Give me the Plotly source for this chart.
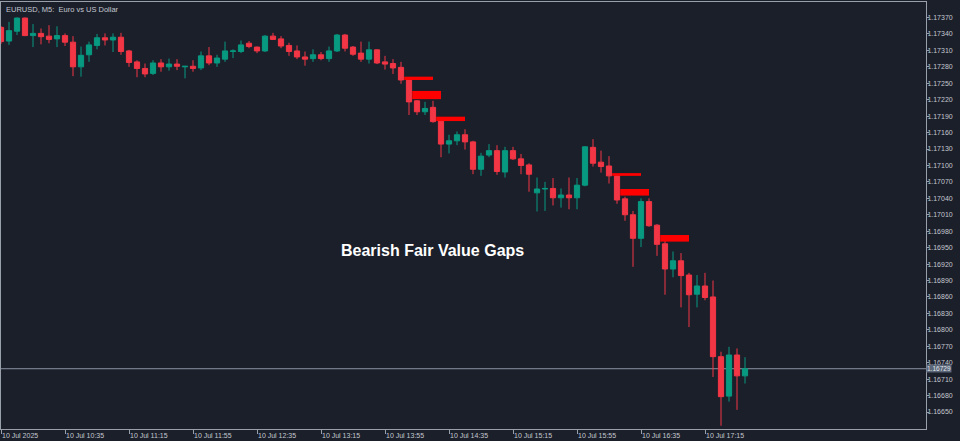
import plotly.graph_objects as go

# ---------------- data ----------------
x_tick_labels = ["10 Jul 2025", "10 Jul 10:35", "10 Jul 11:15", "10 Jul 11:55", "10 Jul 12:35",
                 "10 Jul 13:15", "10 Jul 13:55", "10 Jul 14:35", "10 Jul 15:15", "10 Jul 15:55",
                 "10 Jul 16:35", "10 Jul 17:15"]
x_tick_bars = [0, 8, 16, 24, 32, 40, 48, 56, 64, 72, 80, 88]

y_tick_values = [1.17370, 1.17340, 1.17310, 1.17280, 1.17250, 1.17220, 1.17190, 1.17160, 1.17130,
                 1.17100, 1.17070, 1.17040, 1.17010, 1.16980, 1.16950, 1.16920, 1.16890, 1.16860,
                 1.16830, 1.16800, 1.16770, 1.16740, 1.16710, 1.16680, 1.16650]

opens = [
    1.17352, 1.17327, 1.17345, 1.17369, 1.17337, 1.17341, 1.17336, 1.17331, 1.17337, 1.17325,
    1.17280, 1.17302, 1.17319, 1.17333, 1.17329, 1.17334, 1.17309, 1.17289, 1.17277, 1.17268,
    1.17287, 1.17280, 1.17285, 1.17280, 1.17281, 1.17278, 1.17300, 1.17287, 1.17294, 1.17308,
    1.17308, 1.17323, 1.17316, 1.17309, 1.17336, 1.17331, 1.17319, 1.17309, 1.17298, 1.17295,
    1.17302, 1.17295, 1.17309, 1.17338, 1.17316, 1.17305, 1.17294, 1.17311, 1.17289, 1.17286,
    1.17279, 1.17256, 1.17218, 1.17198, 1.17206, 1.17181, 1.17139, 1.17145, 1.17156, 1.17143,
    1.17093, 1.17119, 1.17127, 1.17088, 1.17127, 1.17112, 1.17101, 1.17050, 1.17057, 1.17058,
    1.17041, 1.17046, 1.17041, 1.17064, 1.17133, 1.17106, 1.17099, 1.17081, 1.17039, 1.17010,
    1.16967, 1.17034, 1.16991, 1.16957, 1.16911, 1.16926, 1.16900, 1.16865, 1.16880, 1.16860,
    1.16751, 1.16679, 1.16754, 1.16716]

highs = [
    1.17354, 1.17362, 1.17370, 1.17370, 1.17358, 1.17350, 1.17356, 1.17354, 1.17341, 1.17336,
    1.17317, 1.17326, 1.17340, 1.17341, 1.17341, 1.17342, 1.17311, 1.17292, 1.17286, 1.17292,
    1.17294, 1.17295, 1.17294, 1.17281, 1.17292, 1.17308, 1.17316, 1.17302, 1.17326, 1.17312,
    1.17328, 1.17327, 1.17317, 1.17338, 1.17342, 1.17336, 1.17324, 1.17319, 1.17308, 1.17312,
    1.17307, 1.17317, 1.17340, 1.17340, 1.17318, 1.17326, 1.17326, 1.17312, 1.17300, 1.17294,
    1.17289, 1.17261, 1.17219, 1.17216, 1.17218, 1.17183, 1.17156, 1.17162, 1.17166, 1.17145,
    1.17123, 1.17139, 1.17137, 1.17134, 1.17134, 1.17121, 1.17104, 1.17078, 1.17070, 1.17077,
    1.17058, 1.17078, 1.17077, 1.17135, 1.17148, 1.17127, 1.17117, 1.17083, 1.17043, 1.17017,
    1.17040, 1.17040, 1.16993, 1.16963, 1.16943, 1.16940, 1.16904, 1.16900, 1.16904, 1.16890,
    1.16760, 1.16769, 1.16766, 1.16750]

lows = [
    1.17322, 1.17320, 1.17338, 1.17336, 1.17316, 1.17321, 1.17323, 1.17316, 1.17318, 1.17263,
    1.17262, 1.17289, 1.17312, 1.17319, 1.17307, 1.17302, 1.17280, 1.17261, 1.17261, 1.17265,
    1.17271, 1.17273, 1.17274, 1.17259, 1.17271, 1.17274, 1.17283, 1.17280, 1.17289, 1.17296,
    1.17305, 1.17314, 1.17305, 1.17307, 1.17329, 1.17314, 1.17300, 1.17294, 1.17282, 1.17289,
    1.17292, 1.17289, 1.17307, 1.17308, 1.17300, 1.17289, 1.17286, 1.17285, 1.17275, 1.17267,
    1.17249, 1.17192, 1.17192, 1.17192, 1.17178, 1.17115, 1.17122, 1.17137, 1.17129, 1.17084,
    1.17081, 1.17115, 1.17083, 1.17078, 1.17110, 1.17084, 1.17052, 1.17016, 1.17017, 1.17027,
    1.17023, 1.17020, 1.17020, 1.17062, 1.17098, 1.17087, 1.17067, 1.17030, 1.16999, 1.16915,
    1.16951, 1.16988, 1.16935, 1.16864, 1.16896, 1.16841, 1.16805, 1.16841, 1.16854, 1.16714,
    1.16625, 1.16669, 1.16654, 1.16702]

closes = [
    1.17326, 1.17346, 1.17369, 1.17337, 1.17341, 1.17335, 1.17330, 1.17337, 1.17325, 1.17280,
    1.17301, 1.17320, 1.17333, 1.17329, 1.17334, 1.17308, 1.17288, 1.17277, 1.17267, 1.17287,
    1.17280, 1.17285, 1.17281, 1.17281, 1.17277, 1.17300, 1.17287, 1.17296, 1.17309, 1.17309,
    1.17320, 1.17317, 1.17309, 1.17336, 1.17330, 1.17318, 1.17308, 1.17298, 1.17294, 1.17302,
    1.17295, 1.17309, 1.17338, 1.17314, 1.17303, 1.17294, 1.17311, 1.17287, 1.17285, 1.17278,
    1.17256, 1.17216, 1.17198, 1.17204, 1.17180, 1.17139, 1.17145, 1.17156, 1.17143, 1.17093,
    1.17117, 1.17127, 1.17089, 1.17127, 1.17112, 1.17100, 1.17084, 1.17057, 1.17058, 1.17041,
    1.17046, 1.17041, 1.17064, 1.17134, 1.17104, 1.17098, 1.17081, 1.17037, 1.17010, 1.16967,
    1.17034, 1.16990, 1.16956, 1.16911, 1.16926, 1.16899, 1.16864, 1.16880, 1.16859, 1.16751,
    1.16678, 1.16754, 1.16716, 1.16729]

# bearish fair value gaps: bar where the gap begins, upper and lower price
fvg_start_bar = [50, 51, 54, 76, 77, 82]
fvg_top = [1.17262, 1.17236, 1.17189, 1.17086, 1.17057, 1.16973]
fvg_bottom = [1.17256, 1.17221, 1.17181, 1.17081, 1.17045, 1.16961]

last_price = 1.16729
chart_title = "EURUSD, M5:  Euro vs US Dollar"
caption = "Bearish Fair Value Gaps"

# ---------------- style ----------------
BG = "#1b1f2a"
UP = "#089981"
DOWN = "#f23645"
FVG = "#ff0000"
AXIS = "#9aa0aa"
TEXT = "#c3c8d0"
FONT = "Liberation Sans"

bars = list(range(len(opens)))

fig = go.Figure()
fig.add_trace(go.Candlestick(
    x=bars, open=opens, high=highs, low=lows, close=closes,
    increasing=dict(line=dict(color=UP, width=1), fillcolor=UP),
    decreasing=dict(line=dict(color=DOWN, width=1), fillcolor=DOWN),
    whiskerwidth=0, showlegend=False, hoverinfo="skip",
))

shapes = []
for s, t, b in zip(fvg_start_bar, fvg_top, fvg_bottom):
    shapes.append(dict(type="rect", xref="x", yref="y", x0=s + 0.4, x1=s + 4,
                       y0=b, y1=t, fillcolor=FVG, line=dict(width=0), layer="above"))
shapes.append(dict(type="line", xref="paper", yref="y", x0=0, x1=1, y0=last_price, y1=last_price,
                   line=dict(color="#8a94a3", width=1), layer="below"))

annotations = [
    dict(xref="paper", yref="paper", x=0.003, y=1, xanchor="left", yanchor="top",
         text=chart_title, showarrow=False, font=dict(family=FONT, size=7.5, color=TEXT), yshift=-1),
    dict(xref="paper", yref="paper", x=0.466, y=0.419, xanchor="center", yanchor="middle",
         text="<b>" + caption + "</b>", showarrow=False,
         font=dict(family=FONT, size=16, color="#ffffff")),
    dict(xref="paper", yref="y", x=1, y=last_price, xanchor="left", yanchor="middle",
         text="1.16729", showarrow=False, bgcolor="#5b6678", borderpad=0, xshift=0,
         font=dict(family=FONT, size=6.5, color="#e2e6ec")),
]
for xb, lab in zip(x_tick_bars, x_tick_labels):
    annotations.append(dict(xref="x", yref="paper", x=xb, y=0, xanchor="left", yanchor="top",
                            text=lab, showarrow=False, yshift=-1, xshift=-1,
                            font=dict(family=FONT, size=7, color=TEXT)))

fig.update_layout(
    width=960, height=441,
    margin=dict(l=1, r=34, t=2, b=12, autoexpand=False),
    paper_bgcolor=BG, plot_bgcolor=BG,
    boxgap=0.35, boxgroupgap=0,
    shapes=shapes, annotations=annotations,
    showlegend=False,
    xaxis=dict(range=[0, 115.625], rangeslider=dict(visible=False), showgrid=False, zeroline=False,
               automargin=False,
               tickvals=x_tick_bars, showticklabels=False, ticks="outside", ticklen=4,
               tickcolor=AXIS, showline=True, linecolor=AXIS, linewidth=1, mirror=True),
    yaxis=dict(range=[1.16619, 1.173983], side="right", showgrid=False, zeroline=False,
               automargin=False,
               tickvals=y_tick_values, ticktext=[f"{v:.5f}" for v in y_tick_values],
               ticks="outside", ticklen=2, tickcolor=AXIS, ticklabelstandoff=-3,
               tickfont=dict(family=FONT, size=7, color=TEXT),
               showline=True, linecolor=AXIS, linewidth=1, mirror=True),
)

fig.write_html("out.html",
               config={"displayModeBar": False, "staticPlot": True},
               post_script="document.body.style.margin='0';document.body.style.overflow='hidden';"
                           "document.body.style.background='" + BG + "';")
